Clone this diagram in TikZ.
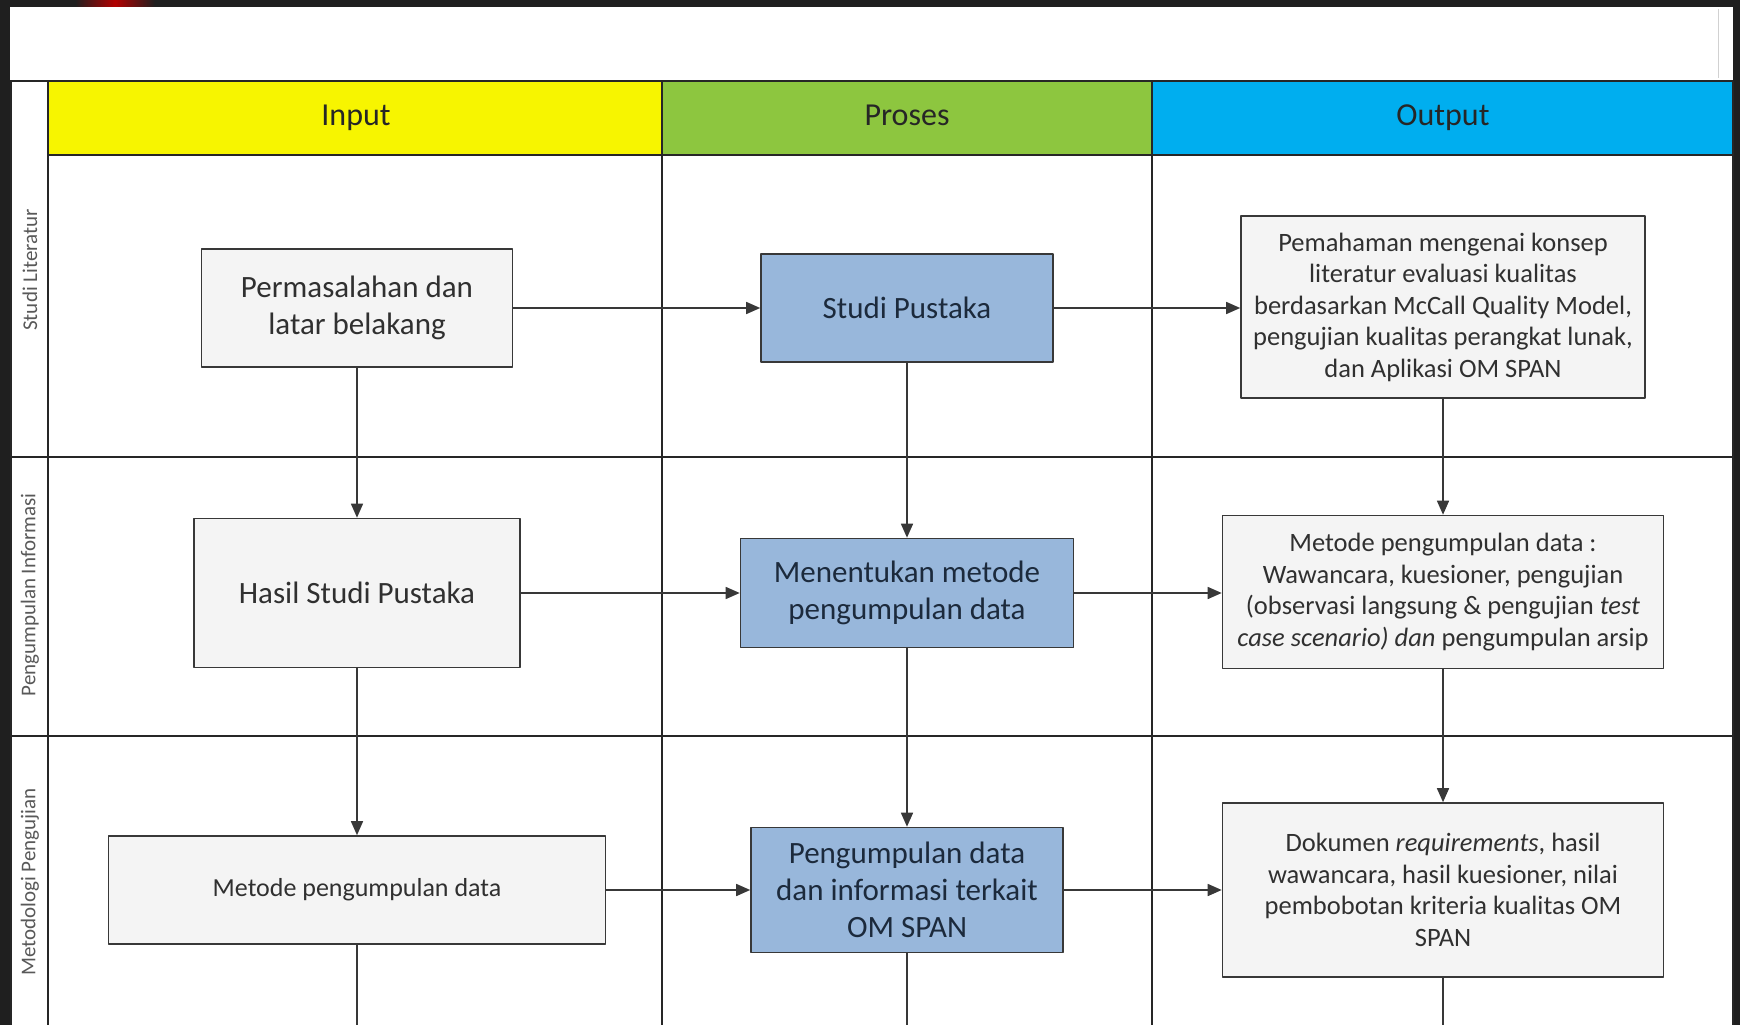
\documentclass[tikz,border=0pt]{standalone}
\usepackage{fontspec}
\setmainfont{Carlito}
\usetikzlibrary{arrows.meta}
\usetikzlibrary{shapes}

\definecolor{hdyellow}{HTML}{F7F500}
\definecolor{hdgreen}{HTML}{8DC63F}
\definecolor{hdblue}{HTML}{00AEEF}
\definecolor{boxblue}{HTML}{98B7DB}
\definecolor{boxgray}{HTML}{F4F4F4}
\definecolor{linegray}{HTML}{383838}
\definecolor{txtgray}{HTML}{303030}
\definecolor{txtblue}{HTML}{1C2A3C}

\begin{document}
\begin{tikzpicture}[x=1pt,y=-1pt,>={Triangle[length=14pt,width=12pt]},line join=bevel,
  whitebox/.style={draw=linegray,line width=1.6pt,fill=boxgray,inner sep=0pt,align=center,text=txtgray},
  bluebox/.style={draw=linegray,line width=1.6pt,fill=boxblue,inner sep=0pt,align=center,text=txtblue},
  flow/.style={draw=linegray,line width=1.5pt},
  grid/.style={draw=black!85,line width=1.4pt},
  headtext/.style={font=\fontsize{32}{38}\selectfont,text=black!85,text height=0.72em,text depth=0.22em},
  lanetext/.style={rotate=90,font=\fontsize{21}{24}\selectfont,text=black!65}]
\useasboundingbox (0,0) rectangle (1740,1025);
%% background
\fill[black!88] (0,0) rectangle (1740,1025);
\shade[left color=black!88,right color=black!88,middle color=red!70!black] (75,0) rectangle (155,7);
\fill[white] (10,7) rectangle (1733,1025);
\draw[black!18,line width=1pt] (1718,9) -- (1718,78);
%% header
\fill[hdyellow] (48,81) rectangle (662,155);
\fill[hdgreen] (662,81) rectangle (1152,155);
\fill[hdblue] (1152,81) rectangle (1733,155);
\node (hd_in) at (356,123) [headtext] {Input};
\node (hd_pr) at (907,123) [headtext] {Proses};
\node (hd_out) at (1443,123) [headtext] {Output};
%% lanes
\draw[grid] (10,81) -- (1733,81);
\draw[grid] (48,155) -- (1733,155);
\draw[grid] (10,457) -- (1733,457);
\draw[grid] (10,736) -- (1733,736);
\draw[grid] (11,81) -- (11,1025);
\draw[grid] (48,81) -- (48,1025);
\draw[grid] (662,81) -- (662,1025);
\draw[grid] (1152,81) -- (1152,1025);
\draw[grid] (1733,81) -- (1733,1025);
\node (lane_1) at (30,270) [lanetext] {Studi Literatur};
\node (lane_2) at (30,595) [lanetext] {Pengumpulan Informasi};
\node (lane_3) at (30,882) [lanetext] {Metodologi Pengujian};
%% input
\node (in_1) at (357,308) [whitebox,minimum width=311pt,minimum height=118pt,font=\fontsize{31}{37}\selectfont] {Permasalahan dan\\latar belakang};
\node (in_2) at (357,593) [whitebox,minimum width=326pt,minimum height=149pt,font=\fontsize{31}{37}\selectfont] {Hasil Studi Pustaka};
\node (in_3) at (357,890) [whitebox,minimum width=497pt,minimum height=108pt,font=\fontsize{26}{31}\selectfont] {Metode pengumpulan data};
%% proses
\node (pr_1) at (907,308) [bluebox,minimum width=292pt,minimum height=108pt,font=\fontsize{31}{37}\selectfont] {Studi Pustaka};
\node (pr_2) at (907,593) [bluebox,minimum width=333pt,minimum height=109pt,font=\fontsize{31}{37}\selectfont] {Menentukan metode\\pengumpulan data};
\node (pr_3) at (907,890) [bluebox,minimum width=312pt,minimum height=125pt,font=\fontsize{31}{37}\selectfont] {Pengumpulan data\\dan informasi terkait\\OM SPAN};
%% output
\node (out_1) at (1443,307) [whitebox,minimum width=404pt,minimum height=182pt,font=\fontsize{26.5}{31.5}\selectfont] {Pemahaman mengenai konsep\\literatur evaluasi kualitas\\berdasarkan McCall Quality Model,\\pengujian kualitas perangkat lunak,\\dan Aplikasi OM SPAN};
\node (out_2) at (1443,592) [whitebox,minimum width=441pt,minimum height=153pt,font=\fontsize{26.5}{31.5}\selectfont] {Metode pengumpulan data :\\Wawancara, kuesioner, pengujian\\(observasi langsung \& pengujian \textit{test}\\\textit{case scenario) dan} pengumpulan arsip};
\node (out_3) at (1443,890) [whitebox,minimum width=441pt,minimum height=174pt,font=\fontsize{26.5}{31.5}\selectfont] {Dokumen \textit{requirements}, hasil\\wawancara, hasil kuesioner, nilai\\pembobotan kriteria kualitas OM\\SPAN};
%% ends below the picture
\coordinate (in_end) at (357,1025);
\coordinate (pr_end) at (907,1025);
\coordinate (out_end) at (1443,1025);
%% flows
\draw[flow,->] (in_1) -- (pr_1);
\draw[flow,->] (pr_1.east) -- (pr_1.east -| out_1.west);
\draw[flow,->] (in_2) -- (pr_2);
\draw[flow,->] (pr_2.east) -- (pr_2.east -| out_2.west);
\draw[flow,->] (in_3) -- (pr_3);
\draw[flow,->] (pr_3) -- (out_3);
\draw[flow,->] (in_1) -- (in_2);
\draw[flow,->] (in_2) -- (in_3);
\draw[flow] (in_3) -- (in_end);
\draw[flow,->] (pr_1) -- (pr_2);
\draw[flow,->] (pr_2) -- (pr_3);
\draw[flow] (pr_3) -- (pr_end);
\draw[flow,->] (out_1) -- (out_2);
\draw[flow,->] (out_2) -- (out_3);
\draw[flow] (out_3) -- (out_end);
%
\end{tikzpicture}
\end{document}
